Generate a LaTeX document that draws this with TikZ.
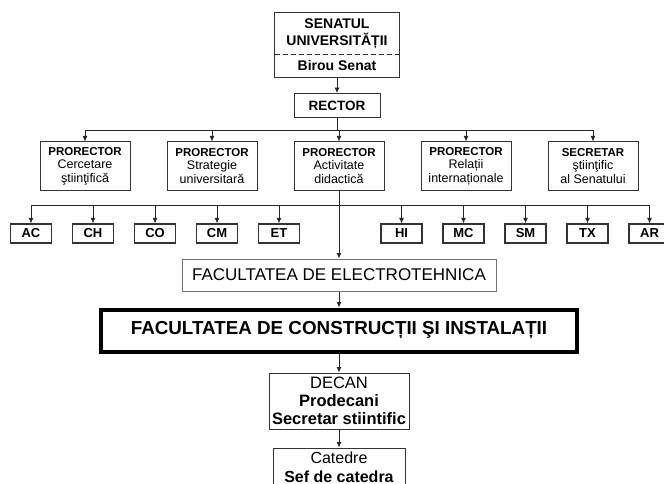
\documentclass[tikz,border=0pt]{standalone}
\usepackage{fontspec}
\setmainfont{Liberation Sans}
\usepackage{tikz}
\usetikzlibrary{arrows.meta,positioning,fit}
\newcommand{\prhead}[1]{{\fontsize{11.5}{13.5}\selectfont\bfseries #1}}

\begin{document}
\begin{tikzpicture}[
    x=1pt, y=1pt,
    node distance=20pt,
    >={Latex[length=5.5pt,width=5pt]},
    line/.style={draw=black!85, line width=0.9pt},
    unit/.style={rectangle, draw=black!80, line width=1pt, inner sep=0pt, align=center},
    prorector/.style={unit, minimum width=90pt, minimum height=48pt, font=\fontsize{12.5}{13.5}\selectfont},
    dept/.style={unit, line width=1.3pt, minimum width=41pt, minimum height=19pt, font=\fontsize{13}{15}\selectfont\bfseries}
]
\useasboundingbox (0,0) rectangle (664,-484);

\node[minimum width=124pt, minimum height=41pt, inner sep=0pt, align=center, font=\fontsize{14}{17}\selectfont\bfseries] (senat) at (337,-33.5) {SENATUL\\UNIVERSITĂȚII};
\node[below=0pt of senat, minimum width=124pt, minimum height=23pt, inner sep=0pt, font=\fontsize{14}{17}\selectfont\bfseries] (birou) {Birou Senat};
\node[unit, fit=(senat)(birou)] (senatbox) {};
\draw[line, dash pattern=on 5pt off 3pt] (senat.south west) -- (senat.south east);

\node[unit, minimum width=86pt, minimum height=24pt, font=\fontsize{13.5}{16}\selectfont\bfseries, below=15pt of senatbox] (rector) {RECTOR};

% prorectors
\node[prorector] (pr1) at (85,-166) {\prhead{PRORECTOR}\\Cercetare\\ştiinţifică};
\node[prorector, right=36pt of pr1] (pr2) {\prhead{PRORECTOR}\\Strategie\\universitară};
\node[prorector, right=36pt of pr2] (pr3) {\prhead{PRORECTOR}\\Activitate\\didactică};
\node[prorector, right=36pt of pr3] (pr4) {\prhead{PRORECTOR}\\Relații\\internaționale};
\node[prorector, right=36pt of pr4] (pr5) {\prhead{SECRETAR}\\ştiinţific\\al Senatului};

\coordinate[below=12pt of rector] (bus1);
\draw[line, ->] (senatbox) -- (rector);
\draw[line] (rector) -- (bus1);
\draw[line] (bus1 -| pr1) -- (bus1 -| pr5);
\foreach \p in {pr1,pr2,pr3,pr4,pr5}
    \draw[line, ->] (bus1 -| \p) -- (\p);

% departments
\node[dept] (ac) at (31,-233.5) {AC};
\node[dept, right=19.7pt of ac] (ch) {CH};
\node[dept, right=19.7pt of ch] (co) {CO};
\node[dept, right=19.7pt of co] (cm) {CM};
\node[dept, right=19.7pt of cm] (et) {ET};
\node[dept, right=80.2pt of et] (hi) {HI};
\node[dept, right=19.7pt of hi] (mc) {MC};
\node[dept, right=19.7pt of mc] (sm) {SM};
\node[dept, right=19.7pt of sm] (tx) {TX};
\node[dept, right=19.7pt of tx] (ar) {AR};

\coordinate[below=15pt of pr3] (bus2);
\draw[line] (bus2 -| ac) -- (bus2 -| ar);
\foreach \d in {ac,ch,co,cm,et,hi,mc,sm,tx,ar}
    \draw[line, ->] (bus2 -| \d) -- (\d);

% faculty chain
\node[unit, draw=black!55, minimum width=314pt, minimum height=32pt, font=\fontsize{17}{20}\selectfont, below=68pt of pr3] (elt) {FACULTATEA DE ELECTROTEHNICA};
\node[unit, draw=black, line width=4pt, minimum width=476pt, minimum height=42pt, font=\fontsize{18.8}{22}\selectfont\bfseries, below=16pt of elt] (fci) {FACULTATEA DE CONSTRUCȚII ŞI INSTALAȚII};
\node[unit, minimum width=140pt, minimum height=56pt, font=\fontsize{16.5}{18}\selectfont, below=19pt of fci] (decan) {DECAN\\\textbf{Prodecani}\\\textbf{Secretar stiintific}};
\node[unit, minimum width=132pt, minimum height=43pt, text depth=5pt, font=\fontsize{16}{18.5}\selectfont, below=18pt of decan] (catedre) {Catedre\\\textbf{Sef de catedra}};

\draw[line, ->] (pr3) -- (elt);
\draw[line, ->] (elt) -- (fci);
\draw[line, ->] (fci) -- (decan);
\draw[line, ->] (decan) -- (catedre);

\end{tikzpicture}
\end{document}
